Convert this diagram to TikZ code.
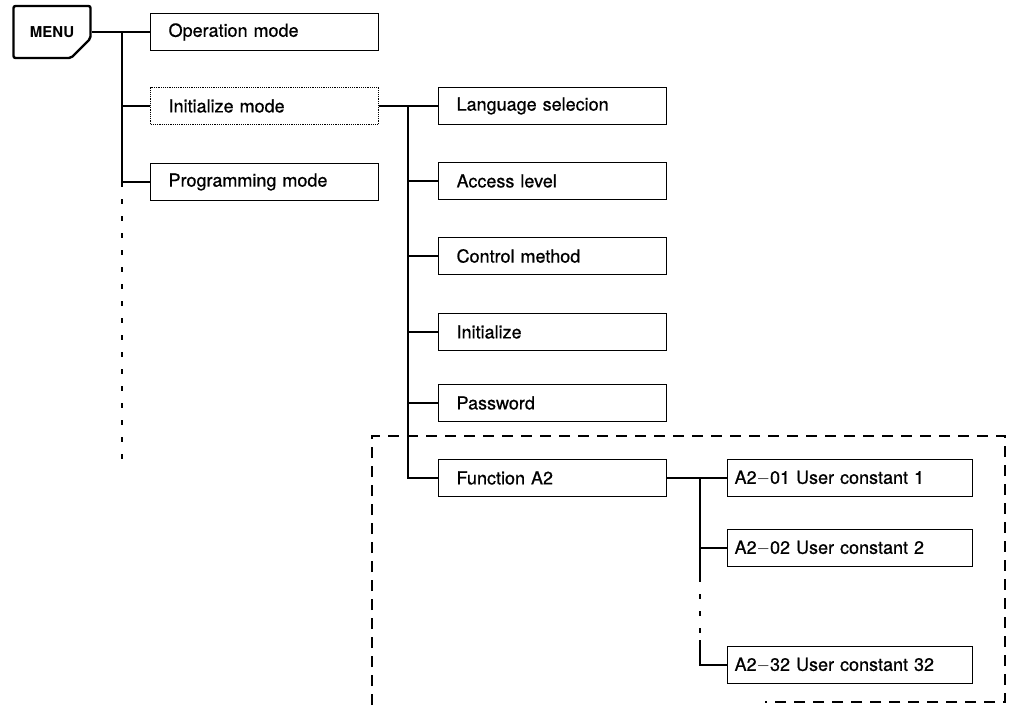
\documentclass[tikz,border=0pt]{standalone}
\usepackage{fontspec}
\setmainfont{TeX Gyre Heros}
\newfontfamily\scanfont{TeX Gyre Heros}[FakeBold=0.7]
\usepackage{tikz}
\usetikzlibrary{shapes.misc, positioning, calc}
\newcommand{\modefont}{\scanfont\fontsize{18}{21}\selectfont}

\tikzset{
  menubox/.style={chamfered rectangle, chamfered rectangle corners=south east,
    chamfered rectangle xsep=14pt, chamfered rectangle ysep=14pt,
    draw, line width=2.4pt, rounded corners=2pt, minimum width=77pt,
    minimum height=52pt, inner sep=0pt, font=\bfseries\fontsize{15}{18}\selectfont},
  modebox/.style={draw, line width=1.2pt, rectangle, anchor=west,
    minimum height=37pt, text width=192pt, inner xsep=18pt, align=left, font=\modefont},
  userbox/.style={modebox, text width=231pt, inner xsep=7pt},
  link/.style={line width=1.2pt},
  moreline/.style={line width=1.2pt, dash pattern=on 5pt off 12pt},
  groupline/.style={line width=1.2pt, dash pattern=on 11pt off 8pt},
}

\begin{document}
\begin{tikzpicture}[x=1pt, y=-1pt]
    \useasboundingbox (0,0) rectangle (1009,705);
    % menu and first level
    \node[menubox] (menu) at (52,32) {MENU};
    \node[modebox] (op) at (150,32) {Operation mode};
    \node[modebox, densely dotted] (init) at (150,106) {Initialize mode};
    \node[modebox] (prog) at (150,182) {Programming mode};
    \coordinate (t1) at (122,0);
    \coordinate (t1end) at (122,470);
    \draw[link] (menu.east) -- (op.west);
    \draw[link] (menu.east -| t1) -- (prog.west -| t1) -- (prog.west);
    \draw[link] (init.west -| t1) -- (init.west);
    \draw[moreline] (prog.west -| t1) -- (t1end);
    % initialize mode
    \node[modebox] (lang) at (438,106) {Language selecion};
    \node[modebox] (access) at (438,181) {Access level};
    \node[modebox] (ctrl) at (438,256) {Control method};
    \node[modebox] (initz) at (438,332) {Initialize};
    \node[modebox] (pass) at (438,403) {Password};
    \node[modebox] (fa2) at (438,478) {Function A2};
    \coordinate (t2) at (408,0);
    \draw[link] (init.east) -- (lang.west);
    \draw[link] (init.east -| t2) -- (fa2.west -| t2) -- (fa2.west);
    \foreach \n in {access, ctrl, initz, pass} {
        \draw[link] (\n.west -| t2) -- (\n.west);
    }
    % function A2
    \node[userbox] (u01) at (727,478) {A2$-$01 User constant 1};
    \node[userbox] (u02) at (727,548) {A2$-$02 User constant 2};
    \node[userbox] (u32) at (727,665) {A2$-$32 User constant 32};
    \coordinate (t3) at (700,0);
    \coordinate (gapA) at (700,577);
    \coordinate (gapB) at (700,640);
    \draw[link] (fa2.east) -- (u01.west);
    \draw[link] (u01.west -| t3) -- (gapA);
    \draw[link] (u02.west -| t3) -- (u02.west);
    \draw[moreline] (gapA) -- (gapB);
    \draw[link] (gapB) -- (u32.west -| t3) -- (u32.west);
    % group frame
    \draw[groupline] (372,705) -- (372,436) -- (1005,436) -- (1005,702) -- (765,702);
\end{tikzpicture}
\end{document}
